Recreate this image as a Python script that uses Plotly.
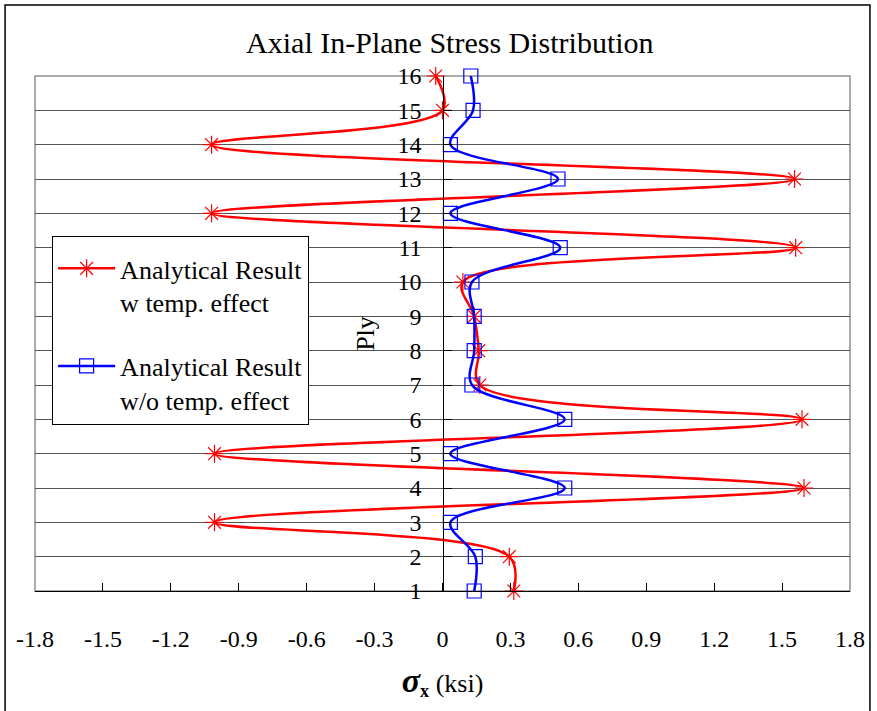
import plotly.graph_objects as go

ply = list(range(1, 17))
stress_with_temp = [0.315, 0.295, -1.007, 1.597, -1.007, 1.588, 0.165, 0.16, 0.14, 0.09,
                    1.56, -1.02, 1.555, -1.02, 0.0, -0.03]
stress_without_temp = [0.14, 0.145, 0.035, 0.54, 0.035, 0.54, 0.13, 0.14, 0.14, 0.13,
                       0.52, 0.035, 0.51, 0.035, 0.135, 0.125]
x_ticks = [-1.8, -1.5, -1.2, -0.9, -0.6, -0.3, 0, 0.3, 0.6, 0.9, 1.2, 1.5, 1.8]
x_tick_text = ["-1.8", "-1.5", "-1.2", "-0.9", "-0.6", "-0.3", "0", "0.3", "0.6", "0.9", "1.2", "1.5", "1.8"]

FONT = "Liberation Serif, Times New Roman, serif"

fig = go.Figure()
fig.add_trace(go.Scatter(
    x=stress_with_temp, y=ply, mode="lines+markers",
    name="Analytical Result<br>w temp. effect",
    line=dict(color="#ff0000", width=2.5, shape="spline", smoothing=1),
    marker=dict(symbol="asterisk-open", size=15, color="#ff0000", line=dict(color="#ff0000", width=1.2)),
    legendgroup="a", cliponaxis=False,
))
fig.add_trace(go.Scatter(
    x=stress_without_temp, y=ply, mode="lines+markers",
    name="Analytical Result<br>w/o temp. effect",
    line=dict(color="#0000ff", width=2.5, shape="spline", smoothing=1),
    marker=dict(symbol="square-open", size=14, color="#0000ff", line=dict(color="#0000ff", width=1.2)),
    legendgroup="b", cliponaxis=False,
))

# plot area frame (gray) and outer border (black)
fig.add_shape(type="rect", xref="paper", yref="paper", x0=0, x1=1, y0=0, y1=1,
              line=dict(color="#909090", width=1.5), layer="below")
fig.add_shape(type="rect", xref="paper", yref="paper", x0=-0.0367, x1=1.0245, y0=-0.245, y1=1.1379,
              line=dict(color="#000000", width=1.5), layer="below")

fig.update_layout(
    width=877, height=711,
    margin=dict(l=35, r=25, t=76, b=120),
    paper_bgcolor="white", plot_bgcolor="white",
    font=dict(family=FONT, color="black", size=24),
    title=dict(text="Axial In-Plane Stress Distribution", x=0.509, xref="paper",
               y=1 - 42 / 711, yanchor="middle", xanchor="center",
               font=dict(family=FONT, size=30, color="black")),
    showlegend=True,
    legend=dict(
        x=0.021, y=0.689, xanchor="left", yanchor="top",
        bgcolor="white", bordercolor="black", borderwidth=1,
        font=dict(family=FONT, size=26, color="black"),
        title=dict(text=" ", font=dict(family=FONT, size=6)),
        tracegroupgap=27, traceorder="grouped", valign="top", itemwidth=57,
    ),
    xaxis=dict(
        range=[-1.8, 1.8], tickmode="array", tickvals=x_ticks, ticktext=x_tick_text,
        ticks="inside", ticklen=8, tickcolor="black", showgrid=False, zeroline=False,
        showline=True, linecolor="black", linewidth=1.2,
        tickfont=dict(family=FONT, size=24), ticklabelstandoff=26,
        title=dict(text="<span style='font-size:34px'><b><i>σ</i></b></span><sub><b>x</b></sub> (ksi)",
                   font=dict(family=FONT, size=26), standoff=22),
    ),
    yaxis=dict(
        range=[1, 16], tickmode="array", tickvals=ply, ticktext=[str(p) for p in ply],
        anchor="free", position=0.5, side="left",
        ticks="inside", ticklen=8, tickcolor="black",
        showgrid=True, gridcolor="#555555", gridwidth=1.2, zeroline=False,
        showline=True, linecolor="black", linewidth=1.2,
        tickfont=dict(family=FONT, size=24), ticklabelstandoff=16,
        title=dict(text="Ply", font=dict(family=FONT, size=26), standoff=14),
    ),
)

fig.write_html("out.html")
